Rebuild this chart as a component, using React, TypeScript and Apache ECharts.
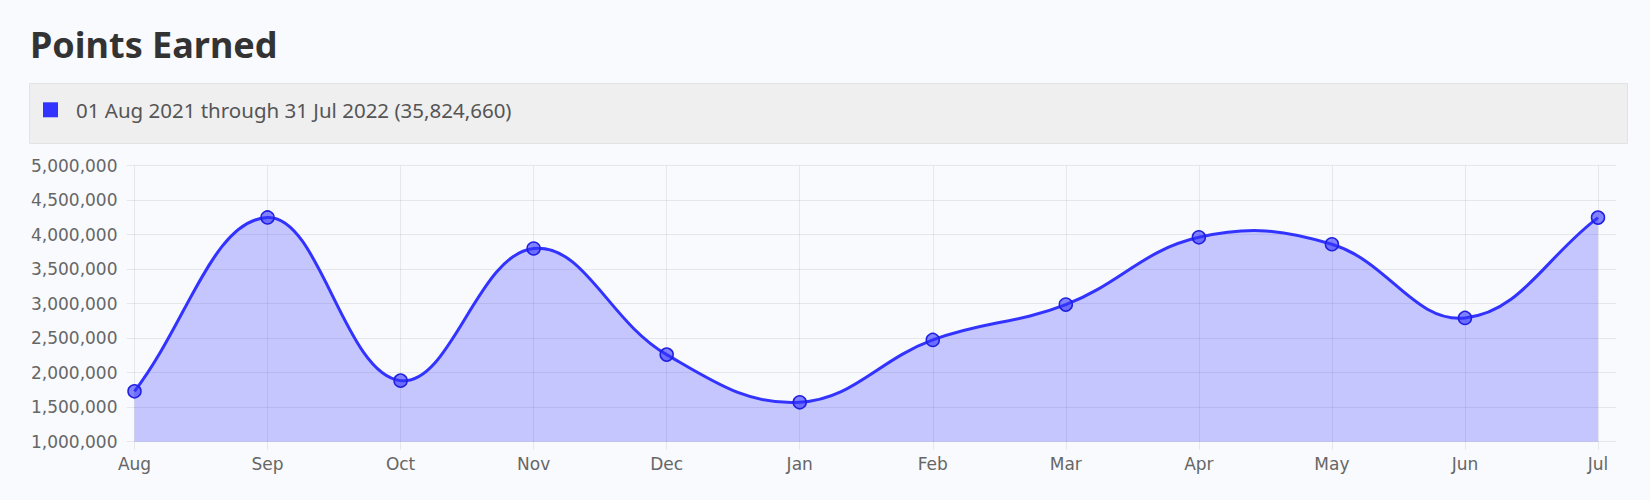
import React, { useEffect, useRef } from "react";
import * as echarts from "echarts";

const TITLE = "Points Earned";
const PERIOD = "01 Aug 2021 through 31 Jul 2022";
const MONTHS = ["Aug", "Sep", "Oct", "Nov", "Dec", "Jan", "Feb", "Mar", "Apr", "May", "Jun", "Jul"];
const POINTS = [1730000, 4250000, 1885000, 3800000, 2262000, 1571000, 2475000, 2987000, 3962000, 3861000, 2794000, 4247660];
const Y_MIN = 1000000;
const Y_MAX = 5000000;
const Y_STEP = 500000;

const BG = "#f8fafd";
const GRID = "rgba(0,0,0,0.075)";
const BLUE = "#3333ff";
const TENSION = 0.4;

export default function App() {
  const ref = useRef<HTMLDivElement>(null);
  useEffect(() => {
    if (!ref.current) return;
    const chart = echarts.init(ref.current, undefined, { renderer: "svg" });
    const total = POINTS.reduce((a, b) => a + b, 0);
    const seriesName = `${PERIOD} (${total.toLocaleString("en-US")})`;
    const fmt = (v: number) => v.toLocaleString("en-US");
    const seriesData = POINTS.map((v, i) => [i, v]);

    const renderCurve = (params: any, api: any) => {
      if (params.dataIndex !== 0) return null;
      const n = POINTS.length;
      const pts: number[][] = [];
      for (let i = 0; i < n; i++) pts.push(api.coord([api.value(0, i), api.value(1, i)]));
      const cs = params.coordSys;
      const clampX = (x: number) => Math.max(cs.x, Math.min(cs.x + cs.width, x));
      const clampY = (y: number) => Math.max(cs.y, Math.min(cs.y + cs.height, y));
      const cps = pts.map((cur, i) => {
        const prev = pts[i - 1] || cur;
        const next = pts[i + 1] || cur;
        const d01 = Math.hypot(cur[0] - prev[0], cur[1] - prev[1]);
        const d12 = Math.hypot(next[0] - cur[0], next[1] - cur[1]);
        let s01 = d01 / (d01 + d12);
        let s12 = d12 / (d01 + d12);
        if (isNaN(s01)) s01 = 0;
        if (isNaN(s12)) s12 = 0;
        const fa = TENSION * s01;
        const fb = TENSION * s12;
        return {
          prev: [clampX(cur[0] - fa * (next[0] - prev[0])), clampY(cur[1] - fa * (next[1] - prev[1]))],
          next: [clampX(cur[0] + fb * (next[0] - prev[0])), clampY(cur[1] + fb * (next[1] - prev[1]))],
        };
      });
      let line = `M${pts[0][0]},${pts[0][1]}`;
      for (let i = 1; i < n; i++) {
        const a = cps[i - 1].next;
        const b = cps[i].prev;
        line += ` C${a[0]},${a[1]} ${b[0]},${b[1]} ${pts[i][0]},${pts[i][1]}`;
      }
      const base = api.coord([0, Y_MIN])[1];
      const area = `${line} L${pts[n - 1][0]},${base} L${pts[0][0]},${base} Z`;
      return {
        type: "group",
        children: [
          { type: "path", shape: { pathData: area }, style: { fill: "rgba(51,51,255,0.26)", stroke: "none" } },
          {
            type: "path",
            shape: { pathData: line },
            style: { fill: "none", stroke: BLUE, lineWidth: 3, lineJoin: "round" },
          },
        ],
      };
    };

    chart.setOption({
      animation: false,
      backgroundColor: BG,
      title: {
        text: TITLE,
        left: 30,
        top: 26.5,
        padding: 0,
        textStyle: { fontFamily: "Noto Sans", fontWeight: "bold", fontSize: 36, color: "#333333" },
      },
      graphic: [
        {
          type: "rect",
          z: -10,
          shape: { x: 29.5, y: 83.5, width: 1598, height: 60 },
          style: { fill: "#efefef", stroke: "#e3e3e3", lineWidth: 1 },
        },
      ],
      legend: {
        left: 43,
        top: 99.3,
        padding: 0,
        z: 10,
        itemWidth: 15,
        itemHeight: 15,
        icon: "rect",
        data: [{ name: seriesName, itemStyle: { color: BLUE, borderWidth: 0 } }],
        textStyle: { fontFamily: "Noto Sans", fontSize: 20.5, color: "#555555", padding: [0, 0, 0, 13] },
        selectedMode: false,
      },
      grid: [
        { left: 134.5, right: 52, top: 165.7, height: 276, containLabel: false },
        { left: 126.7, right: 34, top: 165.7, height: 276, containLabel: false },
      ],
      xAxis: [
        {
          type: "category",
          gridIndex: 0,
          data: MONTHS,
          boundaryGap: false,
          axisLine: { show: false },
          axisTick: { show: true, length: 8, lineStyle: { color: GRID } },
          axisLabel: { color: "#666666", fontFamily: "DejaVu Sans", fontSize: 17, margin: 14 },
          splitLine: { show: true, lineStyle: { color: GRID, width: 1 } },
        },
        { type: "value", gridIndex: 1, show: false, min: 0, max: 1 },
      ],
      yAxis: [
        {
          type: "value",
          gridIndex: 0,
          min: Y_MIN,
          max: Y_MAX,
          interval: Y_STEP,
          axisLine: { show: false },
          axisTick: { show: false },
          splitLine: { show: false },
          axisLabel: { color: "#666666", fontFamily: "DejaVu Sans", fontSize: 17, margin: 17, formatter: fmt },
        },
        {
          type: "value",
          gridIndex: 1,
          min: Y_MIN,
          max: Y_MAX,
          interval: Y_STEP,
          axisLine: { show: false },
          axisTick: { show: false },
          axisLabel: { show: false },
          splitLine: { show: true, lineStyle: { color: GRID, width: 1 } },
        },
      ],
      series: [
        {
          name: seriesName,
          type: "custom",
          xAxisIndex: 0,
          yAxisIndex: 0,
          data: seriesData,
          encode: { x: 0, y: 1 },
          renderItem: renderCurve,
          z: 2,
          itemStyle: { color: BLUE },
        },
        {
          name: seriesName,
          type: "scatter",
          xAxisIndex: 0,
          yAxisIndex: 0,
          data: seriesData,
          symbol: "circle",
          symbolSize: 13,
          z: 3,
          itemStyle: { color: "rgba(51,51,255,0.6)", borderColor: "#2020e0", borderWidth: 1.5, opacity: 1 },
        },
      ],
    });
    return () => chart.dispose();
  }, []);
  return (
    <div
      ref={ref}
      style={{ position: "absolute", left: 0, top: 0, width: 1650, height: 500, background: BG }}
    />
  );
}
